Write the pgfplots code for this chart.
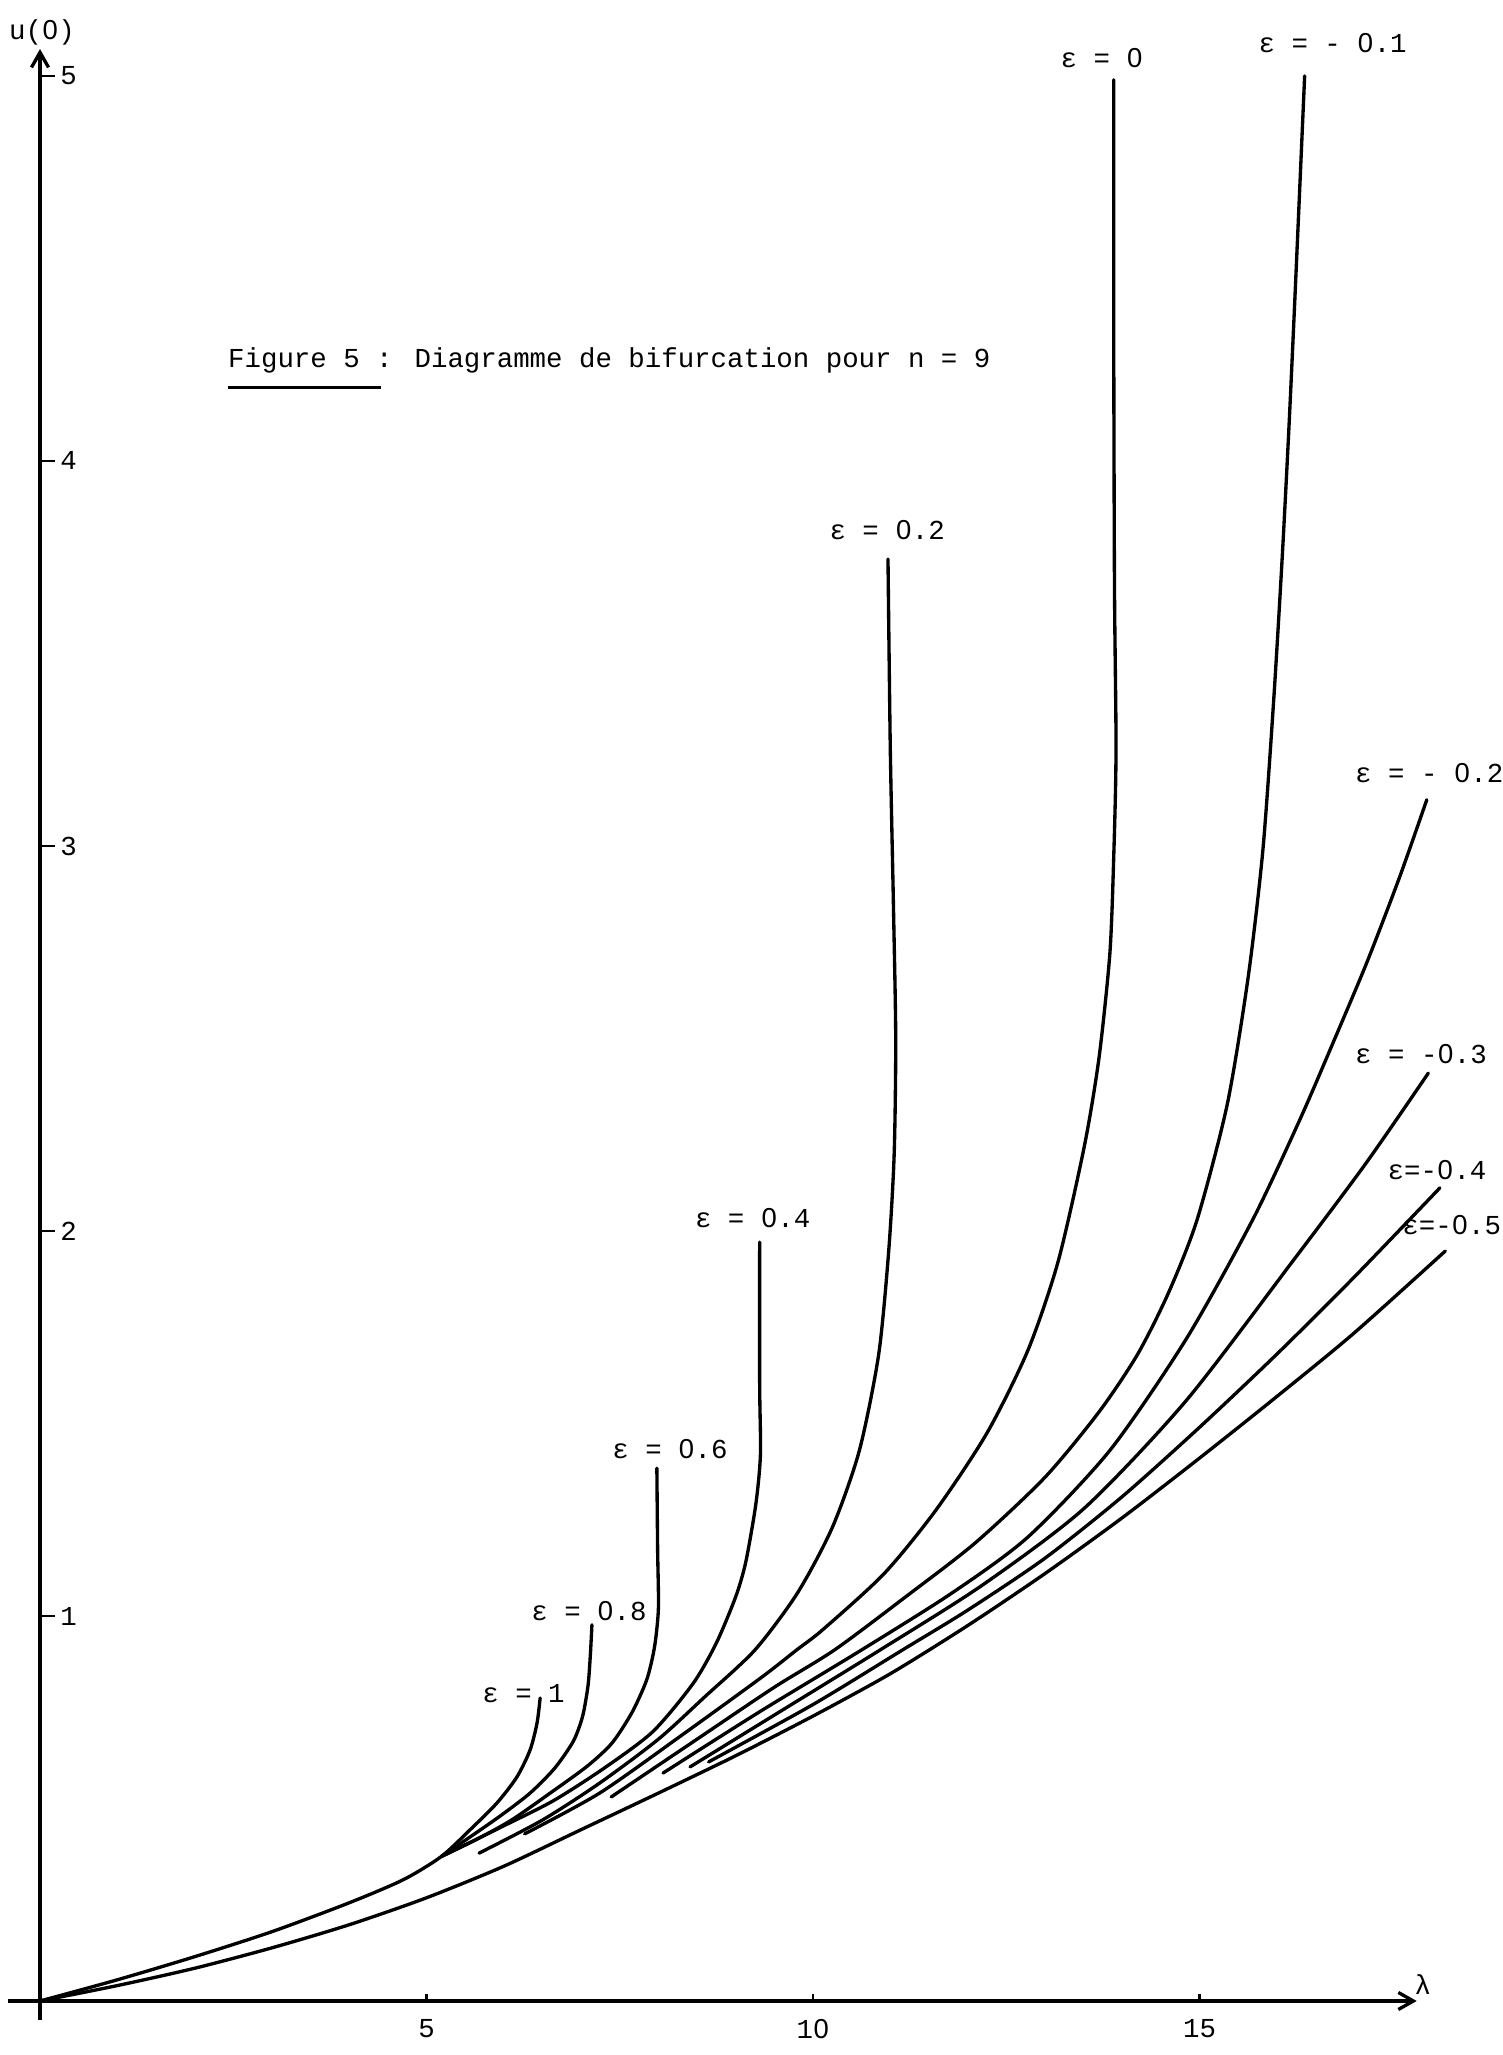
\documentclass[border=0pt]{standalone}
\usepackage{pgfplots}
\pgfplotsset{compat=1.18}
\usepackage{fontspec}
\setmainfont{Liberation Mono}
\newfontfamily\zf{Liberation Sans}
\newcommand\z{\makebox[0.6em]{\zf 0}}
\usetikzlibrary{arrows.meta}
\newcommand\lab{\fontsize{15.6}{19}\selectfont}
\pgfplotsset{curve/.style={black, line width=1.9pt, no markers, smooth, tension=0.45, line cap=round}}
\begin{document}
\begin{tikzpicture}
\begin{axis}[
  x=1.546cm, y=7.7cm,
  axis lines=middle,
  xmin=-0.41, xmax=17.81, ymin=-0.05, ymax=5.07,
  axis line style={black, line width=1.9pt, -{Straight Barb[length=0.3cm, width=0.34cm, line width=1.9pt]}},
  xtick={5,10,15}, xticklabels={5,1\z,15},
  ytick={1,2,3,4,5}, yticklabels={1,2,3,4,5},
  tick align=inside,
  tick style={black, line width=1.6pt},
  xtick style={/pgfplots/major tick length=0.14cm},
  ytick style={/pgfplots/major tick length=0.3cm},
  tick label style={font=\lab},
  xticklabel style={anchor=north, inner sep=0pt, yshift=-0.36cm},
  yticklabel style={anchor=west, inner sep=0pt, xshift=0.4cm},
  clip=false,
]
% epsilon = 1 (with upper trunk from origin)
\addplot[curve] coordinates {(0,0) (1,0.055) (2,0.115) (3,0.18) (4,0.255) (4.7,0.315) (5.19,0.375) (5.56,0.444) (5.91,0.514) (6.17,0.582) (6.34,0.652) (6.43,0.722) (6.47,0.787)};
% epsilon = 0.8
\addplot[curve] coordinates {(5.19,0.375) (5.52,0.42) (5.95,0.48) (6.34,0.54) (6.66,0.605) (6.9,0.675) (7.02,0.74) (7.09,0.82) (7.12,0.9) (7.14,0.977)};
% epsilon = 0.6
\addplot[curve] coordinates {(5.19,0.375) (5.65,0.42) (6.1,0.47) (6.6,0.54) (7.08,0.61) (7.4,0.67) (7.66,0.75) (7.85,0.835) (7.95,0.92) (8.0,1.02) (7.99,1.17) (7.98,1.384)};
% epsilon = 0.4
\addplot[curve] coordinates {(5.19,0.375) (5.95,0.45) (6.64,0.52) (7.3,0.605) (7.93,0.7) (8.45,0.825) (8.75,0.93) (9.0,1.05) (9.13,1.14) (9.26,1.29) (9.32,1.42) (9.31,1.6) (9.31,1.971)};
% epsilon = 0.2
\addplot[curve] coordinates {(5.68,0.384) (6.5,0.47) (7.24,0.566) (8.0,0.68) (8.6,0.79) (9.25,0.912) (9.8,1.06) (10.25,1.23) (10.6,1.43) (10.85,1.68) (10.98,1.95) (11.05,2.2) (11.07,2.5) (11.04,2.85) (11.0,3.25) (10.97,3.745)};
% epsilon = 0
\addplot[curve] coordinates {(6.27,0.434) (7.24,0.54) (8.3,0.69) (9.33,0.84) (9.79,0.912) (10.13,0.965) (10.92,1.11) (11.59,1.275) (12.25,1.475) (12.78,1.69) (13.17,1.92) (13.51,2.22) (13.7,2.45) (13.84,2.72) (13.89,2.97) (13.92,3.25) (13.9,3.675) (13.89,4.37) (13.89,4.99)};
% epsilon = -0.1
\addplot[curve] coordinates {(7.39,0.53) (8.5,0.68) (9.5,0.815) (10.28,0.912) (11.2,1.05) (12.1,1.19) (13.0,1.36) (13.7,1.53) (14.2,1.68) (14.6,1.84) (14.97,2.03) (15.36,2.33) (15.63,2.66) (15.82,2.99) (15.96,3.38) (16.07,3.75) (16.16,4.1) (16.24,4.45) (16.36,5.0)};
% epsilon = -0.2
\addplot[curve] coordinates {(8.06,0.592) (9.3,0.75) (10.63,0.912) (11.8,1.06) (12.78,1.205) (13.84,1.43) (14.83,1.72) (15.69,2.03) (16.3,2.29) (16.73,2.49) (17.17,2.7) (17.59,2.92) (17.94,3.12)};
% epsilon = -0.3
\addplot[curve] coordinates {(8.41,0.608) (9.6,0.755) (10.87,0.912) (12.19,1.08) (13.51,1.28) (14.83,1.56) (16.2,1.92) (17.15,2.175) (17.96,2.41)};
% epsilon = -0.4
\addplot[curve] coordinates {(8.65,0.621) (10,0.77) (11.16,0.912) (12,1.015) (13,1.15) (14,1.31) (15,1.49) (16,1.68) (17,1.88) (18.11,2.112)};
% epsilon = -0.5 (lower trunk from origin)
\addplot[curve] coordinates {(0,0) (1,0.04) (2,0.085) (3,0.138) (4,0.198) (5,0.268) (6,0.35) (7,0.445) (8,0.54) (9,0.637) (10,0.74) (11,0.85) (12,0.975) (13,1.11) (14,1.255) (15,1.41) (16,1.57) (17,1.735) (18.18,1.948)};

% labels
\node[anchor=base west, inner sep=0pt, font=\lab] at (axis cs:5.718,0.774) {ε = 1};
\node[anchor=base west, inner sep=0pt, font=\lab] at (axis cs:6.352,0.987) {ε = \z.8};
\node[anchor=base west, inner sep=0pt, font=\lab] at (axis cs:7.40,1.410) {ε = \z.6};
\node[anchor=base west, inner sep=0pt, font=\lab] at (axis cs:8.47,2.010) {ε = \z.4};
\node[anchor=base west, inner sep=0pt, font=\lab] at (axis cs:10.21,3.795) {ε = \z.2};
\node[anchor=base west, inner sep=0pt, font=\lab] at (axis cs:13.20,5.023) {ε = \z};
\node[anchor=base west, inner sep=0pt, font=\lab] at (axis cs:15.76,5.060) {ε = - \z.1};
\node[anchor=base west, inner sep=0pt, font=\lab] at (axis cs:17.01,3.164) {ε = - \z.2};
\node[anchor=base west, inner sep=0pt, font=\lab] at (axis cs:17.01,2.436) {ε = -\z.3};
\node[anchor=base west, inner sep=0pt, font=\lab] at (axis cs:17.43,2.135) {ε=-\z.4};
\node[anchor=base west, inner sep=0pt, font=\lab] at (axis cs:17.62,1.992) {ε=-\z.5};
\node[anchor=base, inner sep=0pt, font=\lab] at (axis cs:0.026,5.094) {u(\z)};
\node[anchor=base, inner sep=0pt, font=\lab] at (axis cs:17.89,0.016) {λ};
\node[anchor=base west, inner sep=0pt, font=\lab] at (axis cs:2.43,4.244) {Figure 5 : Diagramme de bifurcation pour n = 9};
\draw[black, line width=1.7pt] (axis cs:2.43,4.19) -- (axis cs:4.41,4.19);

\coordinate (BL) at (axis cs:-0.5175,-0.1403);
\coordinate (TR) at (axis cs:18.926,5.1974);
\end{axis}
\pgfresetboundingbox
\path[use as bounding box] (BL) rectangle (TR);
\end{tikzpicture}
\end{document}
